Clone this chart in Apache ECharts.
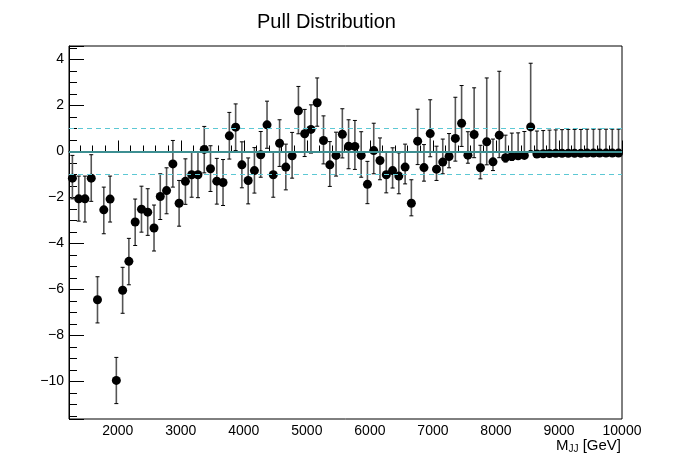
<!DOCTYPE html>
<html><head><meta charset="utf-8">
<script src="https://cdn.jsdelivr.net/npm/echarts@6/dist/echarts.min.js"></script>
<style>html,body{margin:0;padding:0;background:#fff}#c{width:690px;height:467px}</style>
</head><body><div id="c"></div>
<script>
// Bin centres (GeV)
const massGeV = [1280,1380,1479,1579,1678,1778,1878,1977,2077,2176,2276,2376,2475,2575,2674,2774,2874,2973,3073,3172,
3272,3372,3471,3571,3670,3770,3870,3969,4069,4168,4268,4368,4467,4567,4666,4766,4866,4965,5065,5164,
5264,5364,5463,5563,5662,5762,5862,5961,6061,6160,6260,6360,6459,6559,6658,6758,6858,6957,7057,7156,
7256,7356,7455,7555,7654,7754,7854,7953,8053,8152,8252,8352,8451,8551,8650,8750,8850,8949,9049,9148,
9248,9348,9447,9547,9646,9746,9846,9945];
// Pull values
const pull = [-1.16,-2.06,-2.06,-1.16,-6.45,-2.54,-2.07,-9.96,-6.04,-4.78,-3.07,-2.51,-2.64,-3.33,-1.96,-1.70,-0.54,-2.25,-1.30,-1.01,
-1.01,0.09,-0.75,-1.29,-1.35,0.68,1.06,-0.58,-1.26,-0.83,-0.14,1.16,-1.01,0.36,-0.68,-0.19,1.77,0.77,0.96,2.12,
0.48,-0.58,-0.17,0.75,0.23,0.22,-0.17,-1.43,0.04,-0.39,-1.01,-0.83,-1.07,-0.68,-2.25,0.45,-0.70,0.78,-0.77,-0.46,
-0.22,0.57,1.23,-0.16,0.74,-0.71,0.42,-0.45,0.71,-0.27,-0.22,-0.19,-0.17,1.07,-0.11,-0.10,-0.09,-0.08,-0.08,-0.08,
-0.08,-0.08,-0.07,-0.07,-0.07,-0.07,-0.07,-0.07];
// Upper end of error bar
const errHigh = [-0.17,-1.07,-1.07,-0.14,-5.45,-1.55,-1.07,-8.96,-5.04,-3.78,-2.07,-1.51,-1.62,-2.33,-0.97,-0.71,0.48,-1.26,-0.32,-0.03,
-0.03,1.09,0.25,-0.30,-0.35,1.70,2.07,0.42,-0.28,0.17,0.87,2.19,-0.03,1.38,0.32,0.83,2.83,1.83,2.03,3.20,
1.55,0.43,0.84,1.86,1.38,1.35,0.86,-0.43,1.23,0.59,-0.03,0.16,-0.06,0.32,-1.23,1.84,0.30,2.25,0.23,0.54,
0.78,2.36,2.87,0.86,2.77,0.27,3.20,0.54,3.49,0.71,0.80,0.81,0.87,3.84,0.89,0.91,0.93,0.94,0.95,0.96,
0.96,0.96,0.97,0.97,0.97,0.97,0.97,0.97];
// Lower end of error bar
const errLow = [-2.06,-3.03,-3.07,-2.17,-7.46,-3.58,-3.07,-10.97,-7.04,-5.80,-4.09,-3.51,-3.65,-4.33,-2.96,-2.71,-1.55,-3.25,-2.30,-1.99,
-2.01,-0.93,-1.74,-2.29,-2.35,-0.33,0.04,-1.58,-2.28,-1.81,-1.12,0.14,-1.99,-0.65,-1.67,-1.16,0.77,-0.22,-0.07,1.10,
-0.54,-1.52,-1.07,-0.28,-0.75,-0.78,-1.12,-2.27,-0.97,-1.23,-1.80,-1.59,-1.84,-1.41,-2.80,-0.57,-1.29,-0.23,-1.26,-0.97,
-0.71,-0.42,0.22,-0.51,-0.27,-1.19,-0.58,-0.83,-0.27,-0.46,-0.39,-0.30,-0.22,0.04,-0.11,-0.10,-0.09,-0.08,-0.08,-0.08,
-0.08,-0.08,-0.07,-0.07,-0.07,-0.07,-0.07,-0.07];
const refLines = [0, 1, -1];

const chart = echarts.init(document.getElementById('c'), null, {renderer: 'canvas'});
const FONT = '"Liberation Sans", Arial, Helvetica, sans-serif';

const points = massGeV.map((m, i) => [m, pull[i]]);
const bars = massGeV.map((m, i) => [m, errLow[i], errHigh[i]]);

chart.setOption({
  animation: false,
  backgroundColor: '#fff',
  title: {
    text: 'Pull Distribution', left: 252, top: 7,
    textStyle: {fontFamily: FONT, fontSize: 20, fontWeight: 'normal', color: '#000'}
  },
  grid: {left: 69, right: 68, top: 46, bottom: 48, show: true, borderColor: '#000', borderWidth: 1, backgroundColor: 'transparent'},
  xAxis: {
    type: 'value', min: 1226, max: 10000, splitNumber: 9,
    axisLine: {show: true, lineStyle: {color: '#000', width: 1}},
    axisTick: {show: true, inside: true, length: 11, lineStyle: {color: '#000', width: 1}},
    minorTick: {show: true, splitNumber: 5, length: 6, lineStyle: {color: '#000', width: 1}},
    axisLabel: {showMinLabel: false, showMaxLabel: true, margin: 5, fontFamily: FONT, fontSize: 14, color: '#000',
      formatter: v => String(v)},
    splitLine: {show: false}
  },
  yAxis: {
    type: 'value', min: -11.64, max: 4.59, splitNumber: 8,
    axisLine: {show: true, lineStyle: {color: '#000', width: 1}},
    axisTick: {show: true, inside: true, length: 15, lineStyle: {color: '#000', width: 1}},
    minorTick: {show: true, splitNumber: 4, length: 8, lineStyle: {color: '#000', width: 1}},
    axisLabel: {showMinLabel: false, showMaxLabel: false, margin: 5, fontFamily: FONT, fontSize: 14, color: '#000',
      formatter: v => (v < 0 ? '\u2212' + Math.abs(v) : String(v))},
    splitLine: {show: false}
  },
  graphic: [{
    type: 'text', right: 69, top: 438,
    style: {
      text: '{a|M}{b|JJ}{a| [GeV]}', fill: '#000',
      rich: {a: {fontFamily: FONT, fontSize: 15, fill: '#000'},
             b: {fontFamily: FONT, fontSize: 10, fill: '#000', verticalAlign: 'bottom', padding: [8, 0, 0, 0]}}
    }
  }],
  series: [
    {
      type: 'custom', name: 'err', data: bars, z: 2,
      renderItem: function (params, api) {
        const x = api.value(0);
        const pTop = api.coord([x, api.value(2)]);
        const pBot = api.coord([x, api.value(1)]);
        const c = 2;
        return {type: 'group', children: [
          {type: 'line', shape: {x1: pTop[0], y1: pTop[1], x2: pBot[0], y2: pBot[1]}, style: {stroke: '#555', lineWidth: 1.6}},
          {type: 'line', shape: {x1: pTop[0] - c, y1: pTop[1], x2: pTop[0] + c, y2: pTop[1]}, style: {stroke: '#000', lineWidth: 1}},
          {type: 'line', shape: {x1: pBot[0] - c, y1: pBot[1], x2: pBot[0] + c, y2: pBot[1]}, style: {stroke: '#000', lineWidth: 1}}
        ]};
      }
    },
    {
      type: 'scatter', name: 'pull', data: points, symbol: 'circle', symbolSize: 9, z: 3,
      itemStyle: {color: '#000', opacity: 1},
      emphasis: {disabled: true},
      markLine: {
        silent: true, symbol: 'none', label: {show: false}, z: 10,
        data: [
          {yAxis: refLines[0], lineStyle: {color: '#3d8f92', width: 2, type: 'solid'}},
          {yAxis: refLines[1], lineStyle: {color: '#5cc8d4', width: 1, type: [5, 4]}},
          {yAxis: refLines[2], lineStyle: {color: '#5cc8d4', width: 1, type: [5, 4]}}
        ]
      }
    }
  ]
});
</script>
</body></html>
